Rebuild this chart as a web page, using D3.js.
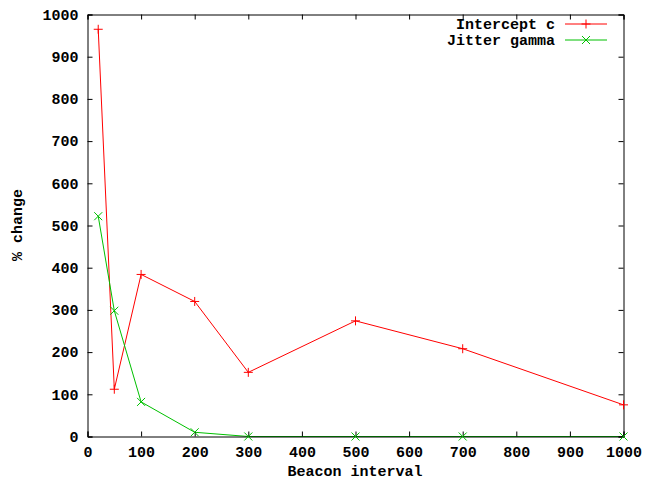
<!DOCTYPE html>
<html>
<head>
<meta charset="utf-8">
<script src="https://cdn.jsdelivr.net/npm/d3@7"></script>
<style>
  body { margin: 0; background: #fff; }
  text { font-family: "Liberation Mono", "DejaVu Sans Mono", monospace; font-size: 15px; font-weight: bold; fill: #000; }
</style>
</head>
<body>
<div id="chart"></div>
<script>
// values
const interval = [20, 50, 100, 200, 300, 500, 700, 1000];
const intercept = [965, 112, 384, 320, 152, 274, 208, 75];
const jitter = [522, 298, 82, 10, 0, 0, 0, 0];
const xTicks = [0, 100, 200, 300, 400, 500, 600, 700, 800, 900, 1000];
const yTicks = [0, 100, 200, 300, 400, 500, 600, 700, 800, 900, 1000];

const series = [
    {name: 'Intercept c', vals: intercept, color: '#ff0000', mark: 'plus'},
    {name: 'Jitter gamma', vals: jitter, color: '#00c000', mark: 'cross'}
];

let svg = d3.select('#chart')
    .append('svg')
    .attr('width', 646)
    .attr('height', 482);

let xScale = d3.scaleLinear().domain([0, 1000]).range([87.5, 623.5]);
let yScale = d3.scaleLinear().domain([0, 1000]).range([436.5, 14.5]);

let line = d3.line()
    .x((d, i) => xScale(interval[i]))
    .y(d => yScale(d));

function marker(g, type, color) {
    let p = type == 'plus'
        ? 'M-4.5,0H4.5M0,-4.5V4.5'
        : 'M-4,-4L4,4M-4,4L4,-4';
    g.append('path').attr('d', p).attr('stroke', color).attr('fill', 'none').attr('stroke-width', 1);
}

series.forEach(function(s) {
    svg.append('path')
        .datum(s.vals)
        .attr('d', line)
        .attr('fill', 'none')
        .attr('stroke', s.color)
        .attr('stroke-width', 1);
});

// border with ticks mirrored on all sides, drawn over the lines
let frame = svg.append('g');
let xAxisB = d3.axisBottom(xScale).tickValues(xTicks).tickSize(-5).tickPadding(10).tickFormat(d3.format('d'));
let xAxisT = d3.axisTop(xScale).tickValues(xTicks).tickSize(-5).tickFormat('');
let yAxisL = d3.axisLeft(yScale).tickValues(yTicks).tickSize(-5).tickPadding(9).tickFormat(d3.format('d'));
let yAxisR = d3.axisRight(yScale).tickValues(yTicks).tickSize(-5).tickFormat('');

frame.append('g').attr('transform', 'translate(0,436.5)').call(xAxisB);
frame.append('g').attr('transform', 'translate(0,14.5)').call(xAxisT);
frame.append('g').attr('transform', 'translate(87.5,0)').call(yAxisL);
frame.append('g').attr('transform', 'translate(623.5,0)').call(yAxisR);

frame.selectAll('.domain').attr('stroke', '#000').attr('stroke-width', 1);
frame.selectAll('.tick line').attr('stroke', '#000');
frame.selectAll('text')
    .style('font-family', '"Liberation Mono", "DejaVu Sans Mono", monospace')
    .style('font-size', '15px')
    .style('font-weight', 'bold')
    .attr('fill', '#000');

// markers on top
series.forEach(function(s) {
    s.vals.forEach(function(v, i) {
        let g = svg.append('g').attr('transform', `translate(${xScale(interval[i])},${yScale(v)})`);
        marker(g, s.mark, s.color);
    });
});

// legend
let legend = svg.append('g');
series.forEach(function(s, i) {
    let y = 24 + i * 16;
    legend.append('text')
        .attr('x', 555)
        .attr('y', y)
        .attr('dy', '0.35em')
        .attr('text-anchor', 'end')
        .text(s.name);
    legend.append('line')
        .attr('x1', 565).attr('x2', 607)
        .attr('y1', y).attr('y2', y)
        .attr('stroke', s.color);
    let g = legend.append('g').attr('transform', `translate(586,${y})`);
    marker(g, s.mark, s.color);
});

// axis titles
svg.append('text')
    .attr('x', 355)
    .attr('y', 476)
    .attr('text-anchor', 'middle')
    .text('Beacon interval');

svg.append('text')
    .attr('transform', 'translate(22,225) rotate(-90)')
    .attr('text-anchor', 'middle')
    .text('% change');
</script>
</body>
</html>
